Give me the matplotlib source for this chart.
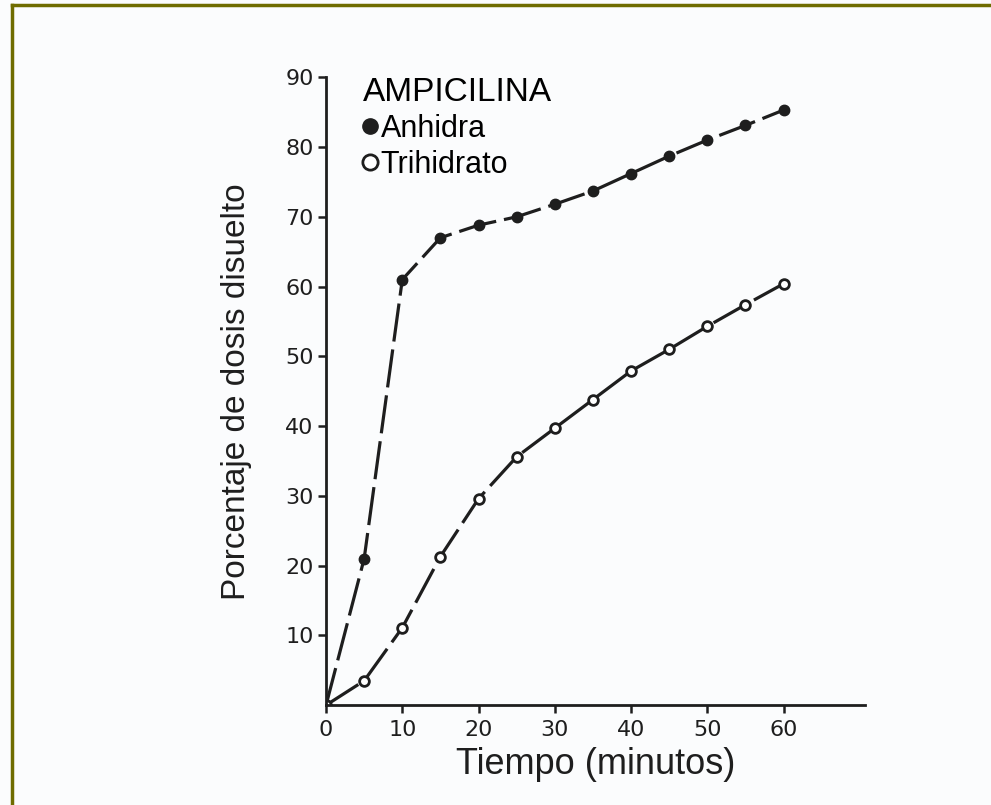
import matplotlib.pyplot as plt
from matplotlib.lines import Line2D

# tiempo en minutos
tiempo = [0, 5, 10, 15, 20, 25, 30, 35, 40, 45, 50, 55, 60]
# porcentaje de dosis disuelto
anhidra = [0, 21, 61, 67, 68.8, 70, 71.8, 73.7, 76.2, 78.7, 81, 83.1, 85.3]
trihidrato = [0, 3.5, 11.1, 21.3, 29.6, 35.6, 39.7, 43.8, 47.9, 51, 54.3, 57.4, 60.4]

xticks = [0, 10, 20, 30, 40, 50, 60]
yticks = [10, 20, 30, 40, 50, 60, 70, 80, 90]

bg = '#fbfcfd'
ink = '#1e1e1e'

fig = plt.figure(figsize=(9.91, 8.05), dpi=100, facecolor=bg)
ax = fig.add_axes([0.329, 0.124, 0.544, 0.780], facecolor=bg)

ax.plot(tiempo, anhidra, color=ink, lw=2.3, dashes=(12, 2.5),
        marker='o', ms=7.5, mfc=ink, mec=ink, label='Anhidra')
ax.plot(tiempo, trihidrato, color=ink, lw=2.3, dashes=(12, 2.5),
        marker='o', ms=7, mfc='white', mec=ink, mew=2, label='Trihidrato')

ax.set_xlim(0, 70.7)
ax.set_ylim(0, 90)
ax.set_xticks(xticks)
ax.set_yticks(yticks)
ax.tick_params(axis='both', direction='out', length=6, width=1.8, color=ink,
               labelsize=16, labelcolor=ink)
ax.tick_params(axis='y', pad=3)
ax.tick_params(axis='x', pad=5)
for s in ['top', 'right']:
    ax.spines[s].set_visible(False)
for s in ['left', 'bottom']:
    ax.spines[s].set_linewidth(2)
    ax.spines[s].set_color(ink)

ax.set_xlabel('Tiempo (minutos)', fontsize=26, family='Liberation Sans', color=ink, labelpad=5)
ax.set_ylabel('Porcentaje de dosis disuelto', fontsize=24, family='Liberation Sans', color=ink, labelpad=24)

handles = [
    Line2D([], [], ls='none', marker='o', ms=11, mfc=ink, mec=ink),
    Line2D([], [], ls='none', marker='o', ms=11, mfc='white', mec=ink, mew=2),
]
leg = ax.legend(handles, ['Anhidra', 'Trihidrato'], title='AMPICILINA',
                loc='upper left', bbox_to_anchor=(0.045, 1.02), frameon=False,
                handlelength=0.5, handletextpad=0.1, labelspacing=0.2,
                borderaxespad=0.0,
                prop={'family': 'Liberation Sans', 'size': 22},
                title_fontproperties={'family': 'Liberation Sans', 'size': 24},
                alignment='left')

# borde del recuadro
fig.add_artist(Line2D([12 / 991, 12 / 991], [0, 1 - 5 / 805], color='#6f6c00', lw=2.5))
fig.add_artist(Line2D([12 / 991, 1], [1 - 5 / 805, 1 - 5 / 805], color='#6f6c00', lw=2.5))

fig.savefig('out.png', dpi=100, facecolor=bg)
